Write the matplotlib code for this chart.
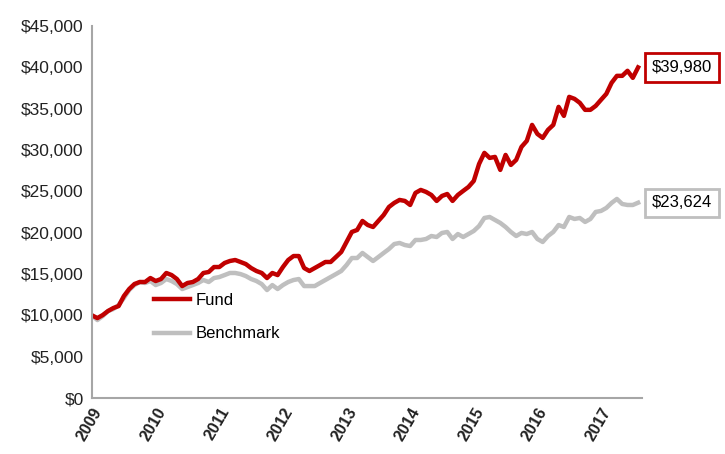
import matplotlib.pyplot as plt
import numpy as np

plt.rcParams['font.family'] = ['Liberation Sans Narrow', 'Liberation Sans', 'DejaVu Sans']

# monthly growth of $10,000, Jan 2009 .. Aug 2017
fund = [10000, 9680, 10040, 10530, 10890, 11130, 12340, 13190, 13800, 14040,
        14040, 14520, 14160, 14400, 15130, 14880, 14400, 13550, 13920, 14040,
        14400, 15130, 15250, 15850, 15850, 16340, 16580, 16700, 16460, 16210,
        15730, 15370, 15130, 14520, 15130, 14880, 15850, 16700, 17180, 17180,
        15730, 15370, 15730, 16090, 16460, 16460, 17060, 17670, 18880, 20090,
        20330, 21420, 20930, 20690, 21420, 22140, 23110, 23600, 23960, 23840,
        23350, 24810, 25170, 24930, 24560, 23840, 24440, 24680, 23840, 24560,
        25050, 25530, 26260, 28310, 29650, 29040, 29160, 27590, 29400, 28190,
        28800, 30370, 31100, 33030, 31940, 31460, 32430, 33030, 35210, 34120,
        36420, 36180, 35700, 34850, 34850, 35330, 36060, 36780, 38120, 38960,
        38960, 39570, 38720, 39980]
benchmark = [10000, 9440, 9920, 10530, 10770, 11250, 12100, 13070, 13670, 14040,
             13920, 14160, 13670, 13920, 14400, 14160, 13790, 13190, 13430, 13670,
             13920, 14280, 14040, 14520, 14640, 14880, 15130, 15130, 15000, 14760,
             14400, 14160, 13790, 13070, 13670, 13190, 13670, 14040, 14280, 14400,
             13550, 13550, 13550, 13920, 14280, 14640, 15000, 15370, 16090, 16940,
             16940, 17550, 17060, 16580, 17060, 17550, 18030, 18630, 18760, 18510,
             18390, 19120, 19120, 19240, 19600, 19480, 19970, 20090, 19240, 19840,
             19480, 19840, 20210, 20810, 21780, 21900, 21540, 21180, 20690, 20090,
             19600, 19970, 19840, 20090, 19240, 18880, 19600, 20090, 20930, 20690,
             21900, 21660, 21780, 21300, 21660, 22510, 22630, 22990, 23600, 24080,
             23470, 23350, 23350, 23624]
years = ['2009', '2010', '2011', '2012', '2013', '2014', '2015', '2016', '2017']

red = '#C00000'
grey = '#BFBFBF'
months = np.arange(len(fund))

fig = plt.figure(figsize=(7.25, 4.54), dpi=100)
ax = fig.add_axes([0.127, 0.123, 0.759, 0.820])

ax.plot(months, benchmark, color=grey, lw=3.2, label='Benchmark', solid_joinstyle='round')
ax.plot(months, fund, color=red, lw=3.2, label='Fund', solid_joinstyle='round')

ax.set_ylim(0, 45000)
ax.set_xlim(0, 103.8)
ax.set_yticks(np.arange(0, 45001, 5000))
ax.set_yticklabels(['${:,}'.format(v) for v in range(0, 45001, 5000)],
                   fontsize=12.5)
ax.set_xticks(np.arange(len(years)) * 12)
ax.set_xticklabels(years, rotation=60, ha='right', va='top', fontsize=11.5,
                   fontweight='bold', rotation_mode='anchor')
ax.tick_params(length=0, pad=6, colors='#222222')
ax.tick_params(axis='x', pad=5)

for s in ['top', 'right']:
    ax.spines[s].set_visible(False)
for s in ['left', 'bottom']:
    ax.spines[s].set_color('#A6A6A6')
    ax.spines[s].set_linewidth(1.5)

h, l = ax.get_legend_handles_labels()
ax.legend(h[::-1], l[::-1], loc='upper left', bbox_to_anchor=(0.1, 0.30),
          frameon=False, fontsize=12, handlelength=2.2, handletextpad=0.3,
          labelspacing=1.1, borderaxespad=0)

ax.annotate('${:,}'.format(fund[-1]), xy=(months[-1], fund[-1]), xytext=(10, 0),
            textcoords='offset points', va='center', ha='left', fontsize=12,
            annotation_clip=False,
            bbox=dict(boxstyle='square,pad=0.4', fc='white', ec=red, lw=2))
ax.annotate('${:,}'.format(benchmark[-1]), xy=(months[-1], benchmark[-1]),
            xytext=(10, 0), textcoords='offset points', va='center', ha='left',
            fontsize=12, annotation_clip=False,
            bbox=dict(boxstyle='square,pad=0.4', fc='white', ec=grey, lw=2))

fig.savefig('out.png', dpi=100)
